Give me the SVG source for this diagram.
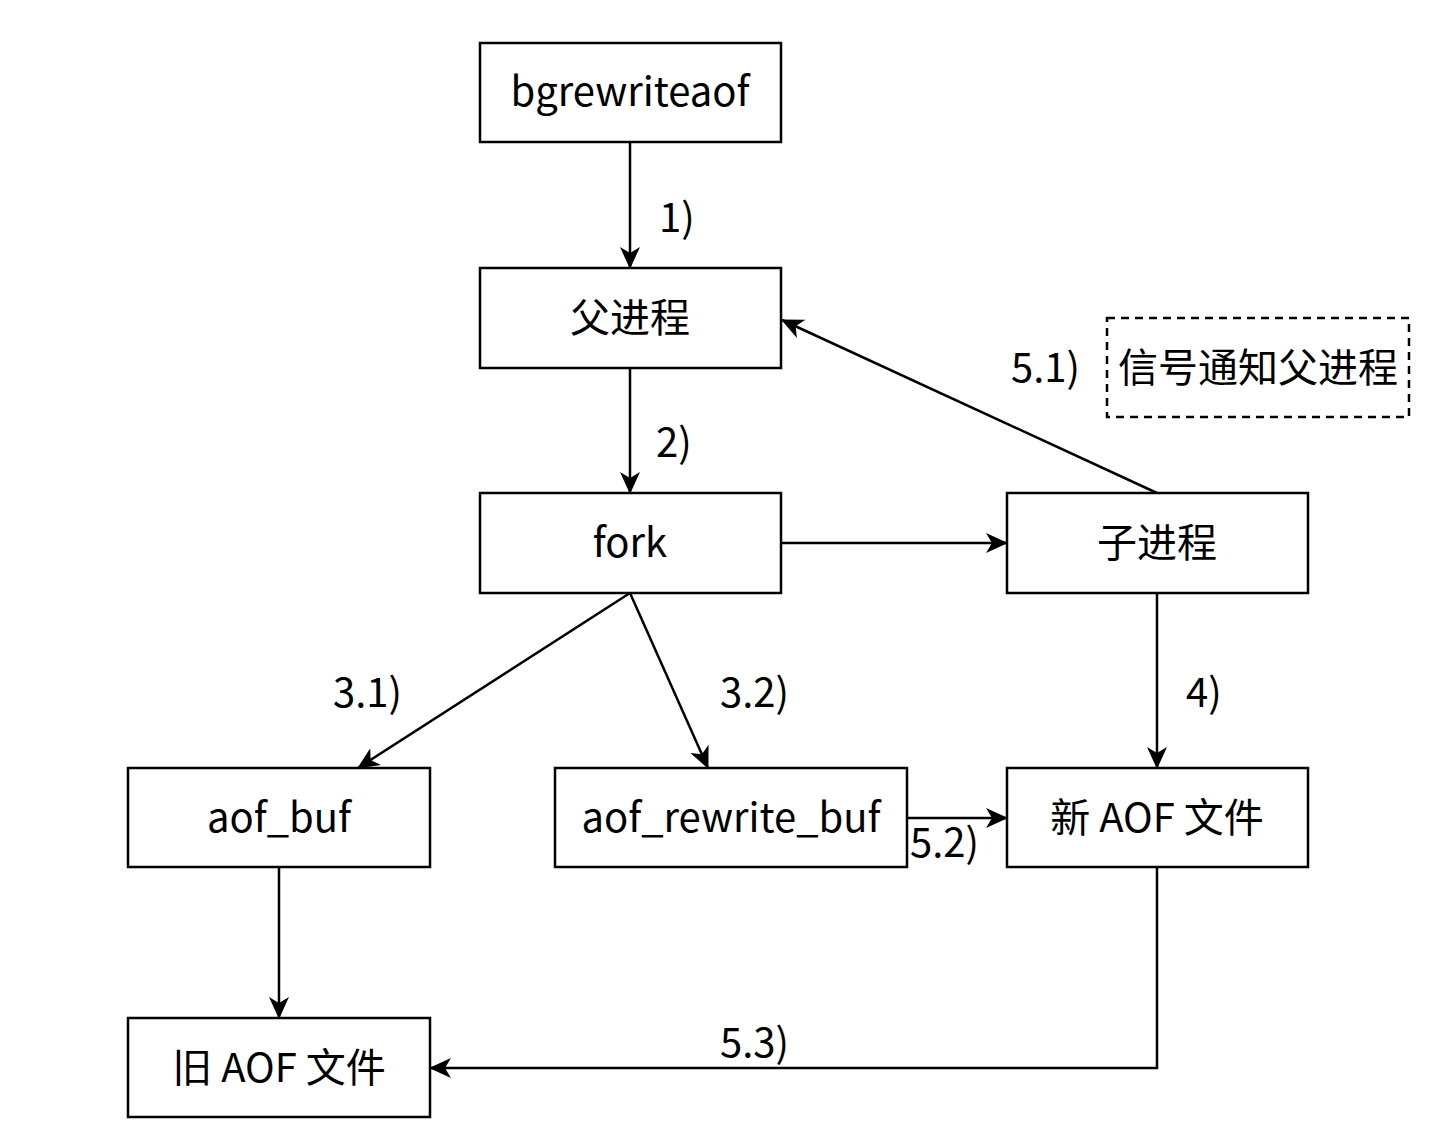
<svg xmlns="http://www.w3.org/2000/svg" width="1451" height="1136" viewBox="0 0 1451 1136">
<style>
.box{fill:#fff;stroke:#000;stroke-width:2.5}
.dash{fill:none;stroke:#000;stroke-width:2.5;stroke-dasharray:8 6}
.t{font-family:"Noto Sans CJK SC",sans-serif;font-size:40px;fill:#000;text-anchor:middle}
.l{font-family:"Noto Sans CJK SC",sans-serif;font-size:40px;fill:#000}
.c{fill:none;stroke:#000;stroke-width:2.5}
</style>
<defs>
<marker id="arr" markerUnits="userSpaceOnUse" markerWidth="24" markerHeight="22" refX="21" refY="10" orient="auto" viewBox="0 0 24 20">
<path d="M0,0 L22,10 L0,20 L6,10 z" fill="#000"/>
</marker>
</defs>
<rect width="1451" height="1136" fill="#fff"/>
<g id="connectors">
<line class="c" x1="630" y1="142" x2="630" y2="268" marker-end="url(#arr)"/>
<line class="c" x1="630" y1="368" x2="630" y2="493" marker-end="url(#arr)"/>
<line class="c" x1="781" y1="543" x2="1007" y2="543" marker-end="url(#arr)"/>
<line class="c" x1="1157" y1="493" x2="782" y2="320" marker-end="url(#arr)"/>
<line class="c" x1="630" y1="593" x2="358" y2="768" marker-end="url(#arr)"/>
<line class="c" x1="630" y1="593" x2="708" y2="768" marker-end="url(#arr)"/>
<line class="c" x1="1157" y1="593" x2="1157" y2="768" marker-end="url(#arr)"/>
<line class="c" x1="907" y1="818" x2="1007" y2="818" marker-end="url(#arr)"/>
<line class="c" x1="279" y1="867" x2="279" y2="1018" marker-end="url(#arr)"/>
<polyline class="c" points="1157,867 1157,1068 430,1068" marker-end="url(#arr)"/>
<text class="l" x="659" y="232">1)</text>
<text class="l" x="656" y="457">2)</text>
<text class="l" x="1011" y="382">5.1)</text>
<text class="l" x="333" y="707">3.1)</text>
<text class="l" x="720" y="707">3.2)</text>
<text class="l" x="1186" y="707">4)</text>
<text class="l" x="910" y="857">5.2)</text>
<text class="l" x="720" y="1057">5.3)</text>
</g>
<g id="n-bgrewriteaof"><rect class="box" x="480" y="43" width="301" height="99"/><text class="t" x="630" y="106">bgrewriteaof</text></g>
<g id="n-parent"><rect class="box" x="480" y="268" width="301" height="100"/><text class="t" x="630" y="332">父进程</text></g>
<g id="n-fork"><rect class="box" x="480" y="493" width="301" height="100"/><text class="t" x="630" y="557">fork</text></g>
<g id="n-child"><rect class="box" x="1007" y="493" width="301" height="100"/><text class="t" x="1157" y="557">子进程</text></g>
<g id="n-signal"><rect class="dash" x="1107" y="318" width="302" height="99"/><text class="t" x="1258" y="382">信号通知父进程</text></g>
<g id="n-aofbuf"><rect class="box" x="128" y="768" width="302" height="99"/><text class="t" x="279" y="832">aof_buf</text></g>
<g id="n-rewritebuf"><rect class="box" x="555" y="768" width="352" height="99"/><text class="t" x="731" y="832">aof_rewrite_buf</text></g>
<g id="n-newaof"><rect class="box" x="1007" y="768" width="301" height="99"/><text class="t" x="1157" y="832">新 AOF 文件</text></g>
<g id="n-oldaof"><rect class="box" x="128" y="1018" width="302" height="99"/><text class="t" x="279" y="1082">旧 AOF 文件</text></g>
</svg>
